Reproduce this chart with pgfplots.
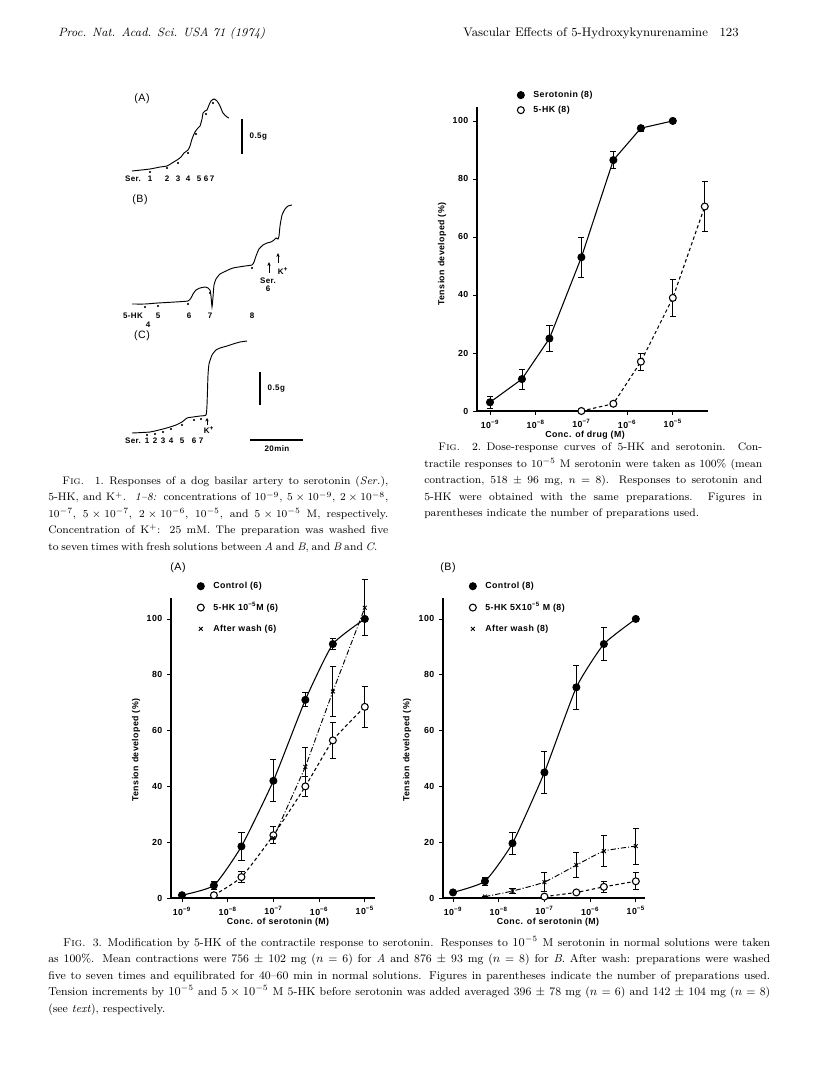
\documentclass[border=0pt]{standalone}
\usepackage{fontspec}
\usepackage{pgfplots}
\pgfplotsset{compat=1.18}
\usetikzlibrary{arrows.meta}

\newfontfamily\ff[LetterSpace=5]{Liberation Sans}
\newcommand\fl{\ff\bfseries\fontsize{6.6}{8}\selectfont}
\newcommand\fs{\ff\bfseries\fontsize{6}{7}\selectfont}
\newcommand\fr{\ff\fontsize{8}{9}\selectfont}
\newcommand\capfont{\fontsize{8.6}{12.3}\selectfont}
\newcommand\capfontb{\fontsize{8.2}{12.3}\selectfont}

% common look of the three dose-response panels
\pgfplotsset{
  panel/.style={
    scale only axis, clip=false,
    axis x line=bottom, axis y line=left,
    axis line style={-, line width=0.8pt},
    tick style={black, line width=0.6pt},
    major tick length=3pt, tick align=outside,
    xtick={-9,-8,-7,-6,-5},
    xticklabels={10\textsuperscript{−9},10\textsuperscript{−8},10\textsuperscript{−7},10\textsuperscript{−6},10\textsuperscript{−5}},
    ytick={0,20,40,60,80,100},
    yticklabels={0,20,40,60,80,100},
    ticklabel style={font=\fl},
    ymin=0,
    legend style={draw=none, fill=none, font=\fl, anchor=north west,
      inner sep=0pt, row sep=5pt},
    legend cell align=left,
    legend image code/.code={
      \path (0pt,0pt) (10pt,0pt);
      \draw[##1, only marks] plot coordinates {(3pt,0pt)};},
  },
  ebar/.style={error bars/.cd, y dir=both, y explicit,
    error bar style={line width=0.6pt, solid},
    error mark options={rotate=90, line width=0.6pt, mark size=2.3pt, solid}},
  ctrl/.style={black, line width=0.8pt, mark=*, mark size=2.6pt, mark options={solid}},
  hk/.style={black, line width=0.8pt, dash pattern=on 2.5pt off 2pt,
    mark=*, mark size=2.6pt, mark options={solid, fill=white}},
  wash/.style={black, line width=0.7pt, dash pattern=on 4pt off 1.5pt on 0.8pt off 1.5pt,
    mark=x, mark size=2pt, mark options={solid}},
}

\begin{document}
\begin{tikzpicture}[x=0.75pt,y=-0.75pt]
\fill[white] (0,0) rectangle (816,1073);

% ---------- Fig. 1: tension traces ----------
\begin{axis}[at={(0pt,0pt)}, anchor=north west, scale only axis,
  width=612pt, height=804.75pt, xmin=0, xmax=816, ymin=0, ymax=1073,
  y dir=reverse, hide axis, clip=false]
  % trace A
  \addplot[black, line width=0.7pt, smooth, tension=0.4] coordinates {
    (132,171)(150,169)(160,167)(167,166)(172,163)(177,160)(181,157)(184,153)
    (188,150)(190,146)(192,139)(195,132)(198,128)(200,126)(202,119)(203,113)
    (205,111)(207,110)(209,105)(211,101)(214,99)(217,101)(220,106)(223,113)
    (227,117)(229,118)};
  \addplot[only marks, mark=*, mark size=0.5pt] coordinates {
    (150,172)(167,168)(178,163)(188,153)(196,134)(206,114)(213,103)};
  \addplot[black, line width=0.8pt] coordinates {(242,119)(242,154)};
  % trace B
  \addplot[black, line width=0.7pt, smooth, tension=0.3] coordinates {
    (132,304)(145,304)(158,303)(175,302)(188,301)(191,298)(193,294)(196,290)
    (200,288)(205,287)(208,288)(210,290)(211,296)(212,307)(213,297)(214,285)
    (216,279)(220,274)(226,271)(233,268)(245,266)(252,265)(254,262)(256,256)
    (259,249)(263,245)(267,243)(271,242)(274,240)(276,238)(278,239)(279,236)
    (280,226)(282,215)(285,209)(288,206)(292,205)};
  \addplot[only marks, mark=*, mark size=0.5pt] coordinates {
    (145,307)(158,306)(188,304)(210,293)(252,268)};
  \addplot[black, line width=0.6pt, -{Stealth[length=3pt,width=2.5pt]}] coordinates {(269,273)(269,262)};
  \addplot[black, line width=0.6pt, -{Stealth[length=3pt,width=2.5pt]}] coordinates {(278,263)(278,253)};
  % trace C
  \addplot[black, line width=0.7pt, smooth, tension=0.3] coordinates {
    (132,433)(150,432)(163,429)(170,427)(176,425)(182,422)(187,418)(193,417)
    (200,416)(206,415)(207,405)(207.5,390)(208,375)(209,364)(212,355)(216,350)
    (220,348)(227,346)(233,344)(240,342)(247,341)};
  \addplot[only marks, mark=*, mark size=0.5pt] coordinates {
    (147,435)(155,434)(163,432)(171,429)(182,425)(194,420)(201,419)};
  \addplot[black, line width=0.6pt, -{Stealth[length=2.5pt,width=2.5pt]}] coordinates {(207,425)(207,418)};
  \addplot[black, line width=0.8pt] coordinates {(260,372)(260,405)};
  \addplot[black, line width=0.8pt] coordinates {(250,440)(303,440)};
\end{axis}

\node[font=\fr] at (142,99) {(A)};
\node[font=\fr] at (140,200) {(B)};
\node[font=\fr] at (142,336) {(C)};
\node[font=\fs, anchor=west] at (245,137) {0.5g};
\node[font=\fs, anchor=west] at (263,389) {0.5g};
\node[font=\fs] at (277,449) {20min};
\foreach \t/\x in {Ser./133,1/150,2/167,3/178,4/188,5/199,6/206,7/212}
  \node[font=\fs] at (\x,179) {\t};
\node[font=\fs] at (133,316) {5-HK};
\node[font=\fs] at (148,325) {4};
\foreach \t/\x in {5/158,6/189,7/210,8/252}
  \node[font=\fs] at (\x,316) {\t};
\node[font=\fs] at (268,281) {Ser.};
\node[font=\fs] at (268,289) {6};
\node[font=\fs] at (283,271) {K\textsuperscript{+}};
\foreach \t/\x in {Ser./133,1/147,2/155,3/163,4/171,5/182,6/194,7/201}
  \node[font=\fs] at (\x,441) {\t};
\node[font=\fs] at (209,430) {K\textsuperscript{+}};

% ---------- Fig. 2 ----------
\begin{axis}[panel, at={(357.75pt,-308.25pt)}, anchor=south west,
  width=173.25pt, height=228pt,
  xmin=-9.284, xmax=-4.23, ymax=104.8,
  legend style={at={(0.169,1.0625)}, row sep=1pt}]
  \addplot[ctrl, ebar] coordinates {
    (-9,3) +- (0,2)
    (-8.301,11) +- (0,3.5)
    (-7.699,25) +- (0,4.5)
    (-7,53) +- (0,7)
    (-6.301,86.5) +- (0,3)
    (-5.699,97.5) +- (0,1)
    (-5,100) +- (0,0)};
  \addlegendentry{Serotonin (8)}
  \addplot[hk, ebar] coordinates {
    (-7,0) +- (0,0)
    (-6.301,2.5) +- (0,0)
    (-5.699,17) +- (0,3)
    (-5,39) +- (0,6.5)
    (-4.301,70.5) +- (0,8.5)};
  \addlegendentry{5-HK (8)}
\end{axis}
\node[font=\fl, rotate=90] at (442,254) {Tension developed (\%)};
\node[font=\fl] at (585,435) {Conc. of drug (M)};

% ---------- Fig. 3A ----------
\begin{axis}[panel, at={(128.25pt,-673.5pt)}, anchor=south west,
  width=153pt, height=225pt,
  xmin=-9.24, xmax=-4.777, ymax=107.5,
  legend style={at={(0.1225,1.063)}}]
  \addplot[ctrl, smooth, tension=0.3, ebar] coordinates {
    (-9,1) +- (0,0)
    (-8.301,4.5) +- (0,1.5)
    (-7.699,18.5) +- (0,5)
    (-7,42) +- (0,7.5)
    (-6.301,71) +- (0,2.5)
    (-5.699,91) +- (0,2)
    (-5,100) +- (0,0)};
  \addlegendentry{Control (6)}
  \addplot[hk, smooth, tension=0.3, ebar] coordinates {
    (-8.301,1) +- (0,0)
    (-7.699,7.5) +- (0,2)
    (-7,22.5) +- (0,3)
    (-6.301,40) +- (0,3.5)
    (-5.699,56.5) +- (0,6.5)
    (-5,68.5) +- (0,7.5)};
  \addlegendentry{5-HK 10\textsuperscript{−5}M (6)}
  \addplot[wash, ebar] coordinates {
    (-7,21.5) +- (0,0)
    (-6.301,47) +- (0,7)
    (-5.699,74) +- (0,9)
    (-5,104) +- (0,10)};
  \addlegendentry{After wash (6)}
\end{axis}
\node[font=\fr] at (178,568) {(A)};
\node[font=\fl, rotate=90] at (136,750) {Tension developed (\%)};
\node[font=\fl] at (278,922) {Conc. of serotonin (M)};

% ---------- Fig. 3B ----------
\begin{axis}[panel, at={(332.25pt,-673.5pt)}, anchor=south west,
  width=151.5pt, height=225pt,
  xmin=-9.219, xmax=-4.799, ymax=107.5,
  legend style={at={(0.124,1.063)}}]
  \addplot[ctrl, smooth, tension=0.3, ebar] coordinates {
    (-9,2) +- (0,0)
    (-8.301,6) +- (0,1.5)
    (-7.699,19.6) +- (0,4)
    (-7,45) +- (0,7.5)
    (-6.301,75.5) +- (0,8)
    (-5.699,91) +- (0,6)
    (-5,100) +- (0,0)};
  \addlegendentry{Control (8)}
  \addplot[hk, smooth, tension=0.3, ebar] coordinates {
    (-7,0.5) +- (0,0)
    (-6.301,2) +- (0,0)
    (-5.699,4) +- (0,2)
    (-5,6) +- (0,3)};
  \addlegendentry{5-HK 5X10\textsuperscript{−5} M (8)}
  \addplot[wash, smooth, tension=0.3, ebar] coordinates {
    (-8.301,0.5) +- (0,0)
    (-7.699,2.5) +- (0,1)
    (-7,5.7) +- (0,3.5)
    (-6.301,11.8) +- (0,4.5)
    (-5.699,16.8) +- (0,5.5)
    (-5,18.6) +- (0,6.5)};
  \addlegendentry{After wash (8)}
\end{axis}
\node[font=\fr] at (448,568) {(B)};
\node[font=\fl, rotate=90] at (407,750) {Tension developed (\%)};
\node[font=\fl] at (548,922) {Conc. of serotonin (M)};

% ---------- page text ----------
\node[anchor=base west, inner sep=0, font=\fontsize{9}{11}\selectfont\itshape] at (58,37) {Proc. Nat. Acad. Sci. USA 71 (1974)};
\node[anchor=base west, inner sep=0, font=\fontsize{9.3}{11}\selectfont] at (463,37) {Vascular Effects of 5-Hydroxykynurenamine};
\node[anchor=base east, inner sep=0, font=\fontsize{9.3}{11}\selectfont] at (739,37) {123};

\node[anchor=north west, inner sep=0, text width=255pt, align=justify, font=\capfontb] at (48,476) {%
\spaceskip=0.25em plus 0.4em minus 0.08em
\hspace*{1.3em}\textsc{Fig.} 1.\enspace Responses of a dog basilar artery to serotonin (\textit{Ser.}),\linebreak
5-HK, and K\textsuperscript{+}. \textit{1--8:} concentrations of $10^{-9}$, $5\times10^{-9}$, $2\times10^{-8}$,\linebreak
$10^{-7}$, $5\times10^{-7}$, $2\times10^{-6}$, $10^{-5}$, and $5\times10^{-5}$ M, respectively.\linebreak
Concentration of K\textsuperscript{+}: 25 mM. The preparation was washed five\linebreak
to seven times with fresh solutions between \textit{A} and \textit{B}, and \textit{B} and \textit{C}.};

\node[anchor=north west, inner sep=0, text width=253.5pt, align=justify, font=\capfontb] at (424,443) {%
\hspace*{1.3em}\textsc{Fig.} 2.\enspace Dose-response curves of 5-HK and serotonin. Con-\linebreak
tractile responses to $10^{-5}$ M serotonin were taken as 100\% (mean\linebreak
contraction, 518 $\pm$ 96 mg, $n$ = 8). Responses to serotonin and\linebreak
5-HK were obtained with the same preparations. Figures in\linebreak
parentheses indicate the number of preparations used.};

\node[anchor=north west, inner sep=0, text width=541.5pt, align=justify, font=\capfont] at (48,936) {%
\hspace*{1.3em}\textsc{Fig.} 3.\enspace Modification by 5-HK of the contractile response to serotonin. Responses to $10^{-5}$ M serotonin in normal solutions were taken\linebreak
as 100\%. Mean contractions were 756 $\pm$ 102 mg ($n$ = 6) for \textit{A} and 876 $\pm$ 93 mg ($n$ = 8) for \textit{B}. After wash:\enspace preparations were washed\linebreak
five to seven times and equilibrated for 40--60 min in normal solutions. Figures in parentheses indicate the number of preparations used.\linebreak
Tension increments by $10^{-5}$ and $5\times10^{-5}$ M 5-HK before serotonin was added averaged 396 $\pm$ 78 mg ($n$ = 6) and 142 $\pm$ 104 mg ($n$ = 8)\linebreak
(see \textit{text}), respectively.};
\end{tikzpicture}
\end{document}
